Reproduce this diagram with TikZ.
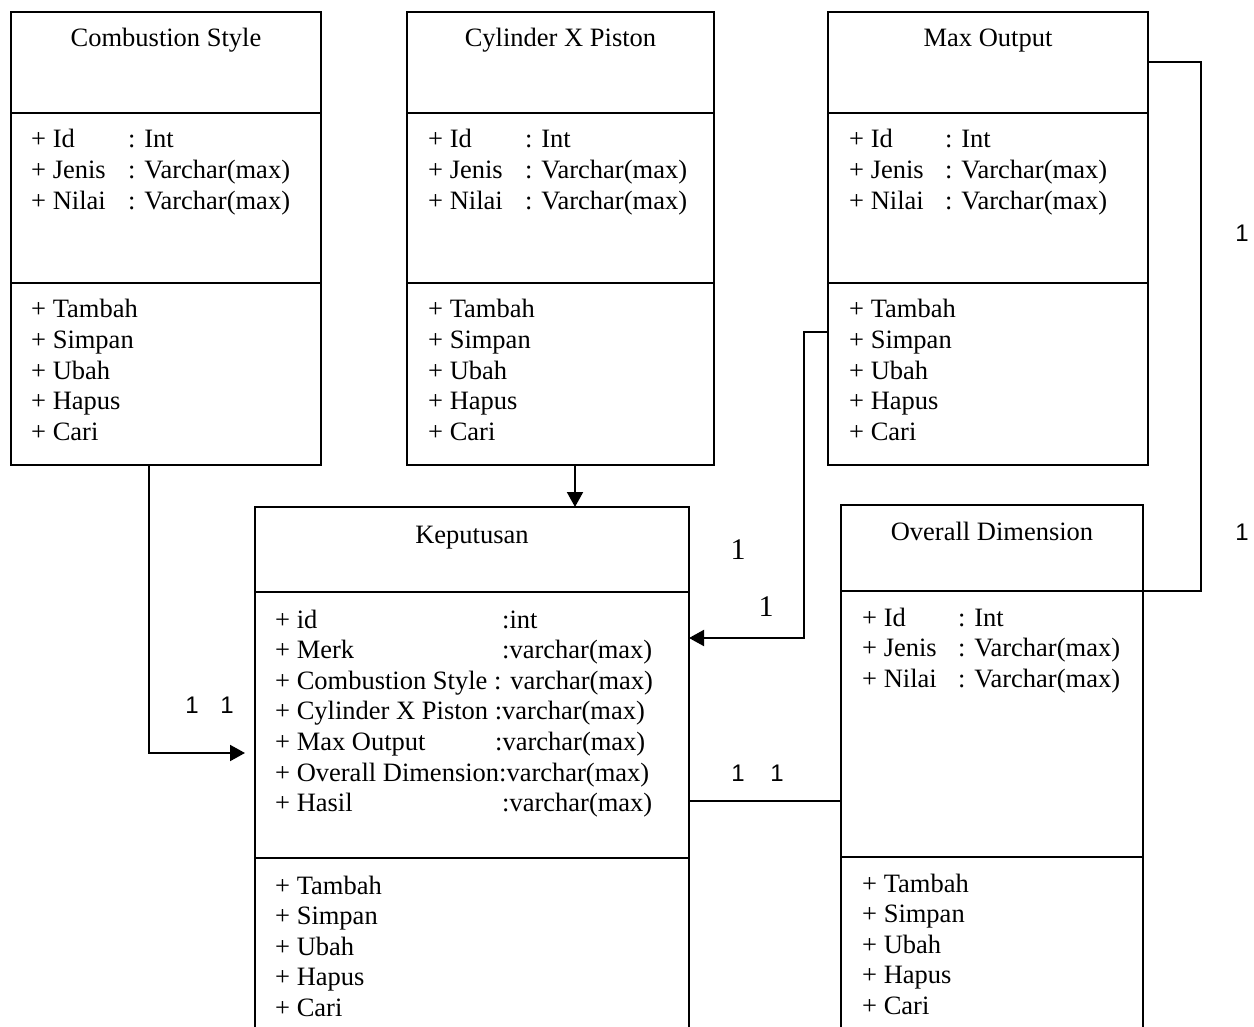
\documentclass[tikz,border=0pt]{standalone}
\usepackage{fontspec}
\setmainfont{Liberation Serif}
\newfontfamily\labelsans{Liberation Sans}
\usetikzlibrary{arrows.meta}

% A class box: name, left x, top y, width, title / attribute / operation heights
\newcommand\classbox[7]{%
  \node[box, minimum width=#4pt, minimum height=#5pt] (#1-t) at (#2,#3) {};
  \node[box, minimum width=#4pt, minimum height=#6pt] (#1-a) at (#1-t.south west) {};
  \node[box, minimum width=#4pt, minimum height=#7pt] (#1-m) at (#1-a.south west) {};
}
% Id / Jenis / Nilai attributes and the five operations:
% name, text x, colon x, first attribute baseline, first operation baseline
\newcommand\classtext[5]{%
  \foreach \n/\ty [count=\i from 0] in {Id/Int,Jenis/Varchar(max),Nilai/Varchar(max)} {
    \node[txt] (#1-at\i) at (#2,{#4+30.6*\i}) {+ \n};
    \node[txt] (#1-ty\i) at (#3,{#4+30.6*\i}) {: \ty};
  }
  \foreach \t [count=\i from 0] in {Tambah,Simpan,Ubah,Hapus,Cari}
    \node[txt] (#1-op\i) at (#2,{#5+30.6*\i}) {+ \t};
}

\begin{document}
\begin{tikzpicture}[x=1pt,y=-1pt,
  box/.style={draw, line width=2pt, rectangle, inner sep=0pt, outer sep=0pt, anchor=north west},
  txt/.style={anchor=base west, inner sep=0pt, font=\fontsize{26.5}{30}\selectfont},
  ttl/.style={anchor=base, inner sep=0pt, font=\fontsize{26.5}{30}\selectfont},
  mult/.style={inner sep=0pt, font=\labelsans\fontsize{24}{26}\selectfont},
  multser/.style={inner sep=0pt, font=\fontsize{30}{32}\selectfont},
  link/.style={line width=2pt},
  arr/.style={link, -{Triangle[length=15pt,width=16pt]}}]

\clip (0,0) rectangle (1254,1027);
\fill[white] (0,0) rectangle (1254,1027);

% classes
\classbox{cs}{11}{12}{310}{101}{170}{182}
\classbox{cx}{407}{12}{307}{101}{170}{182}
\classbox{mo}{828}{12}{320}{101}{170}{182}
\classbox{kp}{255}{507}{434}{85}{266}{200}
\classbox{od}{841}{505}{302}{86}{266}{200}

% titles
\node[ttl] (cs-name) at (166,47) {Combustion Style};
\node[ttl] (cx-name) at (560.5,47) {Cylinder X Piston};
\node[ttl] (mo-name) at (988,47) {Max Output};
\node[ttl] (kp-name) at (472,543) {Keputusan};
\node[ttl] (od-name) at (992,540) {Overall Dimension};

% members
\classtext{cs}{31}{128}{148}{318}
\classtext{cx}{428}{525}{148}{318}
\classtext{mo}{849}{945}{148}{318}
\classtext{od}{862}{958}{626}{892}

\node[txt] (kp-at0) at (275,628) {+ id};
\node[txt] (kp-ty0) at (502,628) {:int};
\node[txt] (kp-at1) at (275,658.6) {+ Merk};
\node[txt] (kp-ty1) at (502,658.6) {:varchar(max)};
\node[txt] (kp-at2) at (275,689.2) {+ Combustion Style : varchar(max)};
\node[txt] (kp-at3) at (275,719.8) {+ Cylinder X Piston :varchar(max)};
\node[txt] (kp-at4) at (275,750.4) {+ Max Output};
\node[txt] (kp-ty4) at (495,750.4) {:varchar(max)};
\node[txt] (kp-at5) at (275,781) {+ Overall Dimension:varchar(max)};
\node[txt] (kp-at6) at (275,811.6) {+ Hasil};
\node[txt] (kp-ty6) at (502,811.6) {:varchar(max)};
\foreach \t [count=\i from 0] in {Tambah,Simpan,Ubah,Hapus,Cari}
  \node[txt] (kp-op\i) at (275,{894+30.6*\i}) {+ \t};

% associations
\coordinate (cs-in) at ([xshift=-10pt,yshift=-28pt]kp-a.west);
\draw[arr] ([xshift=138pt]cs-m.south west) |- (cs-in);
\draw[arr] ([xshift=14.5pt]cx-m.south) -- ([xshift=14.5pt]cx-m.south |- kp-t.north);
\draw[arr] ([yshift=42pt]mo-m.west) -- ++(-24,0) |- ([yshift=87pt]kp-a.east);
\draw[link] (od-t.south east) -- ++(58,0) |- (mo-t.east);
\draw[link] ([yshift=-76pt]kp-a.east) -- ([yshift=-76pt]kp-a.east -| od-a.west);

% multiplicities
\node[mult] (m1) at (192,705) {1};
\node[mult] (m2) at (227,705) {1};
\node[multser] (m3) at (738,550) {1};
\node[multser] (m4) at (766,607) {1};
\node[mult] (m5) at (738,773) {1};
\node[mult] (m6) at (777,773) {1};
\node[mult] (m7) at (1242,233) {1};
\node[mult] (m8) at (1242,532) {1};
\end{tikzpicture}
\end{document}
